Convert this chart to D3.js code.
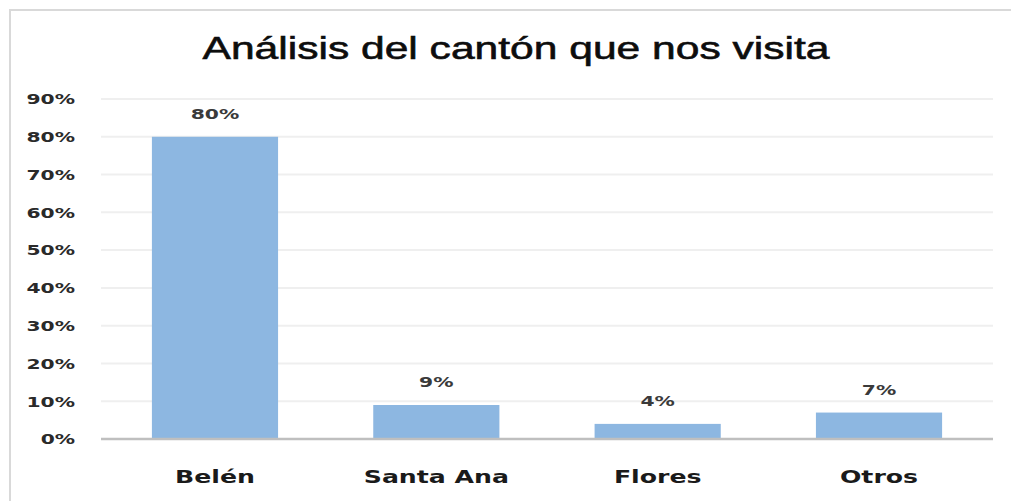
<!DOCTYPE html>
<html>
<head>
<meta charset="utf-8">
<script src="https://cdn.jsdelivr.net/npm/d3@7/dist/d3.min.js"></script>
<style>
  html, body { margin: 0; padding: 0; background: #fff; }
  svg { display: block; }
</style>
</head>
<body>
<svg id="chart" width="1011" height="501"></svg>
<script>
// Chart content
const title = "Análisis del cantón que nos visita";
const categories = ["Belén", "Santa Ana", "Flores", "Otros"];
const values = [80, 9, 4, 7];
const yTicks = [0, 10, 20, 30, 40, 50, 60, 70, 80, 90];

const W = 1011, H = 501;
const margin = { top: 99, right: 18, bottom: 62, left: 101 };
const svg = d3.select("#chart");

// Horizontally widen a text element about its anchor
function stretch(sel, factor) {
  sel.each(function () {
    const len = this.getComputedTextLength();
    d3.select(this)
      .attr("textLength", len * factor)
      .attr("lengthAdjust", "spacingAndGlyphs");
  });
}

// Outer frame (top and left edges)
svg.append("line").attr("x1", 9).attr("x2", W).attr("y1", 10).attr("y2", 10)
  .attr("stroke", "#d9d9d9").attr("stroke-width", 2);
svg.append("line").attr("x1", 10).attr("x2", 10).attr("y1", 9).attr("y2", H)
  .attr("stroke", "#d9d9d9").attr("stroke-width", 2);

const x = d3.scaleBand()
  .domain(categories)
  .range([margin.left, W - margin.right])
  .paddingInner(0.43)
  .paddingOuter(0.23);

const y = d3.scaleLinear()
  .domain([0, 90])
  .range([H - margin.bottom, margin.top]);

// Gridlines
svg.append("g")
  .selectAll("line")
  .data(yTicks.filter(d => d > 0))
  .join("line")
  .attr("x1", margin.left).attr("x2", W - margin.right)
  .attr("y1", d => y(d)).attr("y2", d => y(d))
  .attr("stroke", "#efefef").attr("stroke-width", 2);

// Y axis labels
const yAxis = svg.append("g")
  .attr("transform", `translate(${margin.left - 26},0)`)
  .call(d3.axisLeft(y).tickValues(yTicks).tickFormat(d => d + "%").tickSize(0).tickPadding(0));
yAxis.select(".domain").remove();
yAxis.selectAll("text")
  .attr("font-family", "DejaVu Sans")
  .attr("font-weight", "bold")
  .attr("font-size", 13.5)
  .attr("fill", "#2a2a2a")
  .attr("dy", "0.36em")
  .call(stretch, 1.5);

// Bars
svg.append("g")
  .selectAll("rect")
  .data(values)
  .join("rect")
  .attr("x", (d, i) => x(categories[i]))
  .attr("width", x.bandwidth())
  .attr("y", d => y(d))
  .attr("height", d => y(0) - y(d))
  .attr("fill", "#8db7e1");

// Baseline
svg.append("line")
  .attr("x1", margin.left).attr("x2", W - margin.right)
  .attr("y1", y(0)).attr("y2", y(0))
  .attr("stroke", "#bfbfbf").attr("stroke-width", 2.5);

// Value labels
svg.append("g")
  .selectAll("text")
  .data(values)
  .join("text")
  .attr("x", (d, i) => x(categories[i]) + x.bandwidth() / 2)
  .attr("y", d => y(d) - 18)
  .attr("text-anchor", "middle")
  .attr("font-family", "DejaVu Sans")
  .attr("font-weight", "bold")
  .attr("font-size", 13.5)
  .attr("fill", "#3a3a3a")
  .text(d => d + "%")
  .call(stretch, 1.5);

// Category labels
const xAxis = svg.append("g")
  .attr("transform", `translate(0,${y(0)})`)
  .call(d3.axisBottom(x).tickSize(0).tickPadding(0));
xAxis.select(".domain").remove();
xAxis.selectAll("text")
  .attr("dy", 0)
  .attr("y", 44)
  .attr("font-family", "DejaVu Sans")
  .attr("font-weight", "bold")
  .attr("font-size", 17)
  .attr("fill", "#1a1a1a")
  .call(stretch, 1.48);

// Title
svg.append("text")
  .attr("x", 516)
  .attr("y", 59)
  .attr("text-anchor", "middle")
  .attr("font-family", "Liberation Sans")
  .attr("font-size", 32)
  .attr("fill", "#0d0d0d")
  .attr("stroke", "#0d0d0d")
  .attr("stroke-width", 0.6)
  .text(title)
  .call(stretch, 1.33);
</script>
</body>
</html>
